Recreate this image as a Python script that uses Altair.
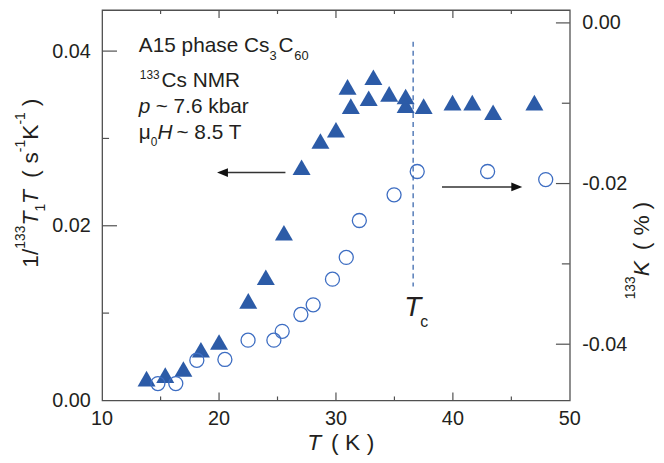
import altair as alt
import pandas as pd

# ---------------- data ----------------
T_tri = [13.8, 15.4, 16.95, 18.45, 20.0, 22.5, 24.0, 25.55, 27.06, 28.67, 30.0,
         30.99, 31.27, 32.8, 33.2, 34.55, 35.96, 35.96, 37.5, 39.97, 41.66, 43.44, 46.97]
R_tri = [0.0025, 0.0029, 0.0036, 0.0058, 0.0067, 0.0114, 0.0141, 0.0192, 0.0267, 0.0297, 0.0310,
         0.0359, 0.0337, 0.0346, 0.0370, 0.0351, 0.0348, 0.0338, 0.0337, 0.0341, 0.0341, 0.0330, 0.0341]
T_circ = [14.77, 16.3, 18.1, 20.5, 22.48, 24.69, 25.4, 27.0, 28.05, 29.7, 30.88,
          32.0, 34.97, 36.95, 42.97, 47.94]
K_circ = [-0.0449, -0.0449, -0.0420, -0.0419, -0.0395, -0.0395, -0.0384, -0.0363, -0.0351, -0.0319, -0.0292,
          -0.0246, -0.0214, -0.0185, -0.0185, -0.0195]
x_labels = [10, 20, 30, 40, 50]
x_major_inner = [20, 30, 40]
x_minor = [15, 25, 35, 45]
left_labels = [0.00, 0.02, 0.04]
left_minor = [0.01, 0.03]
right_labels = [0.00, -0.02, -0.04]
right_minor = [-0.01, -0.03]
tc = [36.6]

# ---------------- style ----------------
FONT = "Liberation Sans"
TXT = "#231F20"
AX = "#505050"
TRI = "#2C5BA7"
CIRC = "#3D6DC2"
W, H = 472, 394
OX, OY = 103, 8  # page position of plot origin


def PX(x):
    return x - OX


def PY(y):
    return y - OY


XS = alt.Scale(domain=[10, 50], nice=False, zero=False)
YL = alt.Scale(domain=[0, 0.0447], nice=False, zero=False)
YR = alt.Scale(domain=[-0.047, 0.0016], nice=False, zero=False)

ARIAL = {'1': .556, '/': .278, '3': .556, 'T': .611, ' ': .278, '(': .333, 's': .5,
         '-': .333, 'K': .667, ')': .333, '%': .889, '0': .556}


def width(s, size):
    return sum(ARIAL.get(c, .556) for c in s) * size


ONE = pd.DataFrame({"a": [0]})


def txt(s, x, y, size, italic=False, angle=0):
    props = dict(text=s, fontSize=size, font=FONT, align="left", baseline="alphabetic", color=TXT)
    if italic:
        props["fontStyle"] = "italic"
    if angle:
        props["angle"] = angle
    return alt.Chart(ONE).mark_text(**props).encode(x=alt.value(PX(x)), y=alt.value(PY(y)))


def rot_seq(pieces, start_y, base_x):
    out = []
    y = start_y
    for s, size, italic, shift, gap in pieces:
        y -= gap
        out.append(txt(s, base_x + shift, y, size, italic, angle=270))
        y -= width(s, size)
    return out


def yticks(vals, scale, x1, x2):
    return alt.Chart(pd.DataFrame({"v": vals})).mark_rule(color=AX, strokeWidth=1.2).encode(
        y=alt.Y("v:Q", scale=scale, axis=None), x=alt.value(x1), x2=alt.value(x2))


def xticks(vals, y1, y2):
    return alt.Chart(pd.DataFrame({"v": vals})).mark_rule(color=AX, strokeWidth=1.2).encode(
        x=alt.X("v:Q", scale=XS, axis=None), y=alt.value(y1), y2=alt.value(y2))


# data layers
tri = alt.Chart(pd.DataFrame({"T": T_tri, "R": R_tri})).mark_point(
    shape="triangle-up", filled=True, size=330, color=TRI, opacity=1).encode(
    x=alt.X("T:Q", scale=XS, axis=None),
    y=alt.Y("R:Q", scale=YL, axis=alt.Axis(values=left_labels, format=".2f", ticks=False, tickSize=0, domain=False,
                                            grid=False, labelPadding=12, title=None, orient="left")))
circ = alt.Chart(pd.DataFrame({"T": T_circ, "K": K_circ})).mark_point(
    shape="circle", filled=False, size=200, strokeWidth=1.3, color=CIRC, opacity=1).encode(
    x=alt.X("T:Q", scale=XS, axis=None),
    y=alt.Y("K:Q", scale=YR, axis=alt.Axis(values=right_labels, format=".2f", ticks=False, tickSize=0, domain=False,
                                            grid=False, labelPadding=12, title=None, orient="right",
                                            labelExpr="replace(datum.label, '\u2212', '-')")))
layers = [tri, circ]

# x-axis tick labels, placed through the x scale
layers.append(alt.Chart(pd.DataFrame({"v": x_labels})).mark_text(
    font=FONT, fontSize=20, color=TXT, align="center", baseline="top").encode(
    x=alt.X("v:Q", scale=XS, axis=None), y=alt.value(H + 9), text=alt.Text("v:Q", format="d")))

# ticks (inward)
layers += [
    yticks(left_labels[1:], YL, 0, 15), yticks(left_minor, YL, 0, 7),
    yticks(right_labels, YR, W, W - 14), yticks(right_minor, YR, W, W - 8),
    xticks(x_major_inner, H, H - 8), xticks(x_minor, H, H - 4),
    xticks(x_major_inner, 0, 8), xticks(x_minor, 0, 4),
]

# Tc dashed line
layers.append(alt.Chart(pd.DataFrame({"t": tc})).mark_rule(color=TRI, strokeDash=[5, 4], strokeWidth=1.2).encode(
    x=alt.X("t:Q", scale=XS, axis=None), y=alt.value(PY(40)), y2=alt.value(PY(287))))

# arrows
layers.append(alt.Chart(ONE).mark_rule(color="#333", strokeWidth=1.5).encode(
    x=alt.value(PX(227)), x2=alt.value(PX(288)), y=alt.value(PY(172))))
layers.append(alt.Chart(ONE).mark_point(shape="M-1,0L1,-0.8L1,0.8Z", filled=True, size=121, color="#111", opacity=1).encode(
    x=alt.value(PX(224.5)), y=alt.value(PY(172))))
layers.append(alt.Chart(ONE).mark_rule(color="#333", strokeWidth=1.5).encode(
    x=alt.value(PX(446)), x2=alt.value(PX(518)), y=alt.value(PY(186.5))))
layers.append(alt.Chart(ONE).mark_point(shape="M1,0L-1,-0.8L-1,0.8Z", filled=True, size=121, color="#111", opacity=1).encode(
    x=alt.value(PX(521.5)), y=alt.value(PY(186.5))))

# annotation block
layers += [
    txt("A15 phase Cs", 140, 50, 21), txt("3", 272, 58, 13), txt("C", 281, 50, 21), txt("60", 297, 58, 13),
    txt("133", 141, 78, 12), txt("Cs NMR", 163, 86, 21),
    txt("p", 140, 112, 21, italic=True), txt("~ 7.6 kbar", 157, 112, 21),
    txt("\u03bc", 140, 138, 21), txt("0", 152, 145, 12), txt("H", 159, 138, 21, italic=True),
    txt("~ 8.5 T", 178, 138, 21),
    txt("T", 408, 317, 28, italic=True), txt("c", 424, 328, 16),
]

# x title
layers += [txt("T", 310, 452, 23, italic=True), txt("(", 334, 452, 23), txt("K", 348, 452, 23),
           txt(")", 370, 452, 23)]

# left title (rotated)
layers += rot_seq([
    ("1/", 23, False, 0, 0), ("133", 14, False, -13, 0), ("T", 23, True, 0, 0), ("1", 14, False, 7, 0),
    ("T", 23, True, 0, 0), ("(", 23, False, 0, 12), ("s", 23, False, 0, 7), ("-1", 14, False, -13, 0),
    ("K", 23, False, 0, 0), ("-1", 14, False, -13, 0), (")", 23, False, 0, 6)], 268, 38)

# right title (rotated)
layers += rot_seq([
    ("133", 14, False, -14, 0), ("K", 23, True, 0, 0), ("(", 23, False, 0, 11), ("%", 23, False, 0, 7),
    (")", 23, False, 0, 6)], 300, 655)

chart = alt.layer(*layers).resolve_scale(y="independent").properties(
    width=W, height=H,
    autosize=alt.AutoSizeParams(type="none"),
    padding={"left": 95, "top": 0, "right": 87, "bottom": 53},
).configure_view(stroke=AX, strokeWidth=1.3).configure_axis(
    labelFont=FONT, labelFontSize=20, labelColor=TXT)

chart.save("out.html", embed_options={"renderer": "svg", "actions": False})
